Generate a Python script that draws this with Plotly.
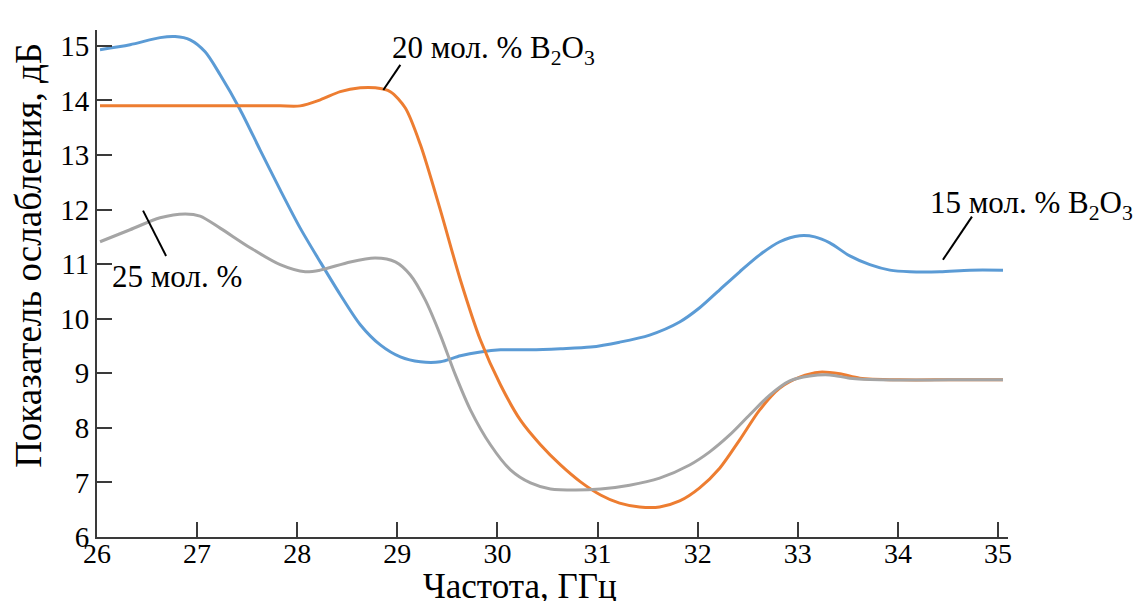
import plotly.graph_objects as go

# Frequency, GHz
x_15 = [26.03, 26.33, 26.63, 26.78, 26.93, 27.08, 27.23, 27.43, 27.63, 27.83, 28.03, 28.23, 28.43, 28.63,
        28.83, 29.03, 29.23, 29.43, 29.63, 29.83, 30.03, 30.33, 30.63, 30.93, 31.22, 31.52, 31.82, 32.02,
        32.22, 32.42, 32.62, 32.82, 33.02, 33.17, 33.32, 33.52, 33.72, 33.92, 34.12, 34.42, 34.72, 35.05]
y_15 = [14.93, 15.02, 15.15, 15.17, 15.11, 14.89, 14.47, 13.83, 13.09, 12.36, 11.66, 11.04, 10.44, 9.89,
        9.52, 9.30, 9.21, 9.21, 9.32, 9.39, 9.43, 9.43, 9.45, 9.48, 9.57, 9.70, 9.94, 10.20,
        10.53, 10.86, 11.17, 11.41, 11.52, 11.50, 11.39, 11.15, 10.99, 10.89, 10.86, 10.86, 10.89, 10.89]

x_20 = [26.03, 26.33, 26.63, 26.93, 27.23, 27.53, 27.83, 28.03, 28.23, 28.43, 28.63, 28.78, 28.93, 29.08,
        29.23, 29.43, 29.63, 29.83, 30.03, 30.23, 30.43, 30.63, 30.83, 31.03, 31.22, 31.42, 31.62, 31.82,
        32.02, 32.22, 32.42, 32.62, 32.82, 33.02, 33.22, 33.42, 33.62, 34.02, 34.52, 35.05]
y_20 = [13.90, 13.90, 13.90, 13.90, 13.90, 13.90, 13.90, 13.90, 14.01, 14.16, 14.23, 14.23, 14.16, 13.86,
        13.19, 11.99, 10.71, 9.61, 8.79, 8.14, 7.69, 7.32, 7.01, 6.77, 6.62, 6.55, 6.55, 6.66,
        6.90, 7.26, 7.78, 8.33, 8.73, 8.93, 9.02, 8.99, 8.91, 8.88, 8.88, 8.88]

x_25 = [26.03, 26.33, 26.63, 26.88, 27.03, 27.23, 27.53, 27.83, 28.08, 28.23, 28.53, 28.78, 28.98, 29.13,
        29.28, 29.43, 29.58, 29.73, 29.93, 30.13, 30.33, 30.53, 30.78, 31.03, 31.32, 31.62, 31.92, 32.12,
        32.32, 32.52, 32.72, 32.92, 33.12, 33.32, 33.52, 33.82, 34.52, 35.05]
y_25 = [11.41, 11.63, 11.85, 11.92, 11.88, 11.66, 11.30, 10.99, 10.86, 10.89, 11.04, 11.11, 11.04, 10.80,
        10.34, 9.70, 8.97, 8.33, 7.69, 7.23, 6.99, 6.88, 6.86, 6.88, 6.95, 7.08, 7.32, 7.56,
        7.87, 8.24, 8.60, 8.86, 8.95, 8.97, 8.91, 8.88, 8.88, 8.88]

x_ticks = [26, 27, 28, 29, 30, 31, 32, 33, 34, 35]
y_ticks = [6, 7, 8, 9, 10, 11, 12, 13, 14, 15]

label_15 = "15 мол. % B<sub>2</sub>O<sub>3</sub>"
label_20 = "20 мол. % B<sub>2</sub>O<sub>3</sub>"
label_25 = "25 мол. %"

FONT = "Liberation Serif"
AX = "#3a3a3a"

fig = go.Figure()
for xs, ys, col in [(x_15, y_15, "#5B9BD5"), (x_20, y_20, "#ED7D31"), (x_25, y_25, "#A5A5A5")]:
    fig.add_trace(go.Scatter(x=xs, y=ys, mode="lines",
                             line=dict(color=col, width=3, shape="spline", smoothing=0.8),
                             showlegend=False, hoverinfo="skip"))

fig.update_layout(
    width=1137, height=601,
    margin=dict(l=97, r=129, t=30, b=64),
    paper_bgcolor="white", plot_bgcolor="white",
    font=dict(family=FONT, size=28, color="black"),
    xaxis=dict(range=[26, 35.1], tickvals=x_ticks, ticks="inside", ticklen=15, tickwidth=2,
               tickcolor=AX, showline=True, linecolor=AX, linewidth=2, showgrid=False,
               zeroline=False, automargin=False, ticklabelstandoff=-10,
               tickfont=dict(family=FONT, size=28, color="black")),
    yaxis=dict(range=[6, 15.29], tickvals=y_ticks, ticks="inside", ticklen=15, tickwidth=2,
               tickcolor=AX, showline=True, linecolor=AX, linewidth=2, showgrid=False,
               zeroline=False, automargin=False,
               tickfont=dict(family=FONT, size=29, color="black")),
)

annos = [
    dict(x=28.93, y=14.93, text=label_20, xanchor="left", yanchor="middle"),
    dict(x=34.30, y=12.09, text=label_15, xanchor="left", yanchor="middle"),
    dict(x=26.13, y=10.77, text=label_25, xanchor="left", yanchor="middle"),
]
for a in annos:
    fig.add_annotation(xref="x", yref="y", showarrow=False,
                       font=dict(family=FONT, size=31, color="black"), **a)

fig.add_annotation(xref="paper", yref="paper", x=0.464, y=-0.0986, text="Частота, ГГц",
                   showarrow=False, xanchor="center", yanchor="middle",
                   font=dict(family=FONT, size=35, color="black"))
fig.add_annotation(xref="paper", yref="paper", x=-0.076, y=0.556, text="Показатель ослабления, дБ",
                   showarrow=False, textangle=-90, xanchor="center", yanchor="middle",
                   font=dict(family=FONT, size=37, color="black"))

# leader lines
for x0, y0, x1, y1 in [(29.03, 14.65, 28.86, 14.19), (34.74, 11.87, 34.45, 11.08), (26.46, 11.98, 26.69, 11.15)]:
    fig.add_shape(type="line", xref="x", yref="y", x0=x0, y0=y0, x1=x1, y1=y1,
                  line=dict(color="black", width=2))

fig.write_html("out.html", config={"displayModeBar": False},
               post_script="document.body.style.margin='0px';")
